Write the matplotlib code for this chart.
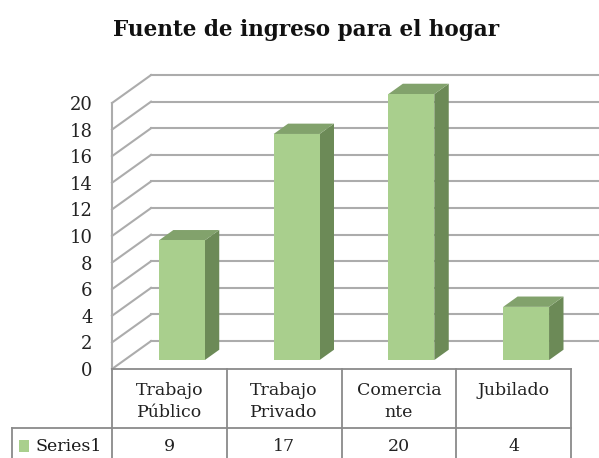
import matplotlib
matplotlib.use("Agg")
import matplotlib.pyplot as plt
from matplotlib.patches import Polygon, Rectangle

plt.rcParams["font.family"] = "DejaVu Serif"

# Data
categories = ["Trabajo\nPúblico", "Trabajo\nPrivado", "Comercia\nnte", "Jubilado"]
values = [9, 17, 20, 4]
series_name = "Series1"
y_ticks = list(range(0, 21, 2))

# Oblique projection: how far the back wall sits from the front plane
DX = 0.34   # in category units
DY = 2.1    # in value units
BAR_W = 0.40
D0, D1 = 0.32, 0.69   # bar front / back depth

FRONT = "#a9cf8d"
SIDE = "#6c8a57"
TOP = "#82a26c"
GRID = "#acacac"
TABLE = "#8a8a8a"

fig = plt.figure(figsize=(5.99, 4.58), dpi=100)
ax = fig.add_axes([112 / 599, 89 / 458, 459 / 599, 266 / 458])
ax.set_xlim(0, len(categories))
ax.set_ylim(0, 20)
ax.patch.set_visible(False)
for s in ax.spines.values():
    s.set_visible(False)
ax.set_xticks([])
ax.set_yticks(y_ticks)
ax.tick_params(axis="y", length=0, pad=14, labelsize=13, labelcolor="#222222")

n = len(categories)

# walls: side wall diagonals + back wall gridlines
for v in y_ticks:
    ax.plot([0, DX], [v, v + DY], color=GRID, lw=1.5, clip_on=False, zorder=1)
    ax.plot([DX, n + 0.5 + DX], [v + DY, v + DY], color=GRID, lw=1.5,
            clip_on=False, zorder=1)
ax.plot([0, 0], [0, 20], color=GRID, lw=1.5, clip_on=False, zorder=1)

# 3D columns
for i, v in enumerate(values):
    x0 = i + 0.5 - BAR_W / 2
    x1 = x0 + BAR_W
    a0x, a0y = D0 * DX, D0 * DY
    a1x, a1y = D1 * DX, D1 * DY
    front = [(x0 + a0x, a0y), (x1 + a0x, a0y), (x1 + a0x, v + a0y), (x0 + a0x, v + a0y)]
    side = [(x1 + a0x, a0y), (x1 + a1x, a1y), (x1 + a1x, v + a1y), (x1 + a0x, v + a0y)]
    top = [(x0 + a0x, v + a0y), (x1 + a0x, v + a0y), (x1 + a1x, v + a1y), (x0 + a1x, v + a1y)]
    ax.add_patch(Polygon(side, closed=True, fc=SIDE, ec="none", zorder=3, clip_on=False))
    ax.add_patch(Polygon(top, closed=True, fc=TOP, ec="none", zorder=3, clip_on=False))
    ax.add_patch(Polygon(front, closed=True, fc=FRONT, ec="none", zorder=4, clip_on=False))

# data table under the plot
row1 = -4.44
row2 = -7.3
left = -0.87
tkw = dict(color=TABLE, lw=1.3, clip_on=False, zorder=2)
ax.plot([0, n], [0, 0], **tkw)
ax.plot([left, n], [row1, row1], **tkw)
ax.plot([left, n], [row2, row2], **tkw)
for k in range(n + 1):
    ax.plot([k, k], [0, row2], **tkw)
ax.plot([left, left], [row1, row2], **tkw)

for i, (cat, v) in enumerate(zip(categories, values)):
    ax.text(i + 0.5, -0.95, cat, ha="center", va="top", fontsize=12.5,
            linespacing=1.4, color="#222222")
    ax.text(i + 0.5, -5.86, str(v), ha="center", va="center", fontsize=12.5,
            color="#222222")

ax.add_patch(Rectangle((-0.81, -6.24), 0.088, 0.9, fc=FRONT, ec="none",
                       clip_on=False))
ax.text(-0.67, -5.86, series_name, ha="left", va="center", fontsize=12.5,
        color="#1a1a1a")

fig.text(306 / 599, 1 - 30 / 458, "Fuente de ingreso para el hogar",
         ha="center", va="center", fontsize=15.5, fontweight="bold",
         color="#111111")

fig.savefig("out.png", dpi=100)
